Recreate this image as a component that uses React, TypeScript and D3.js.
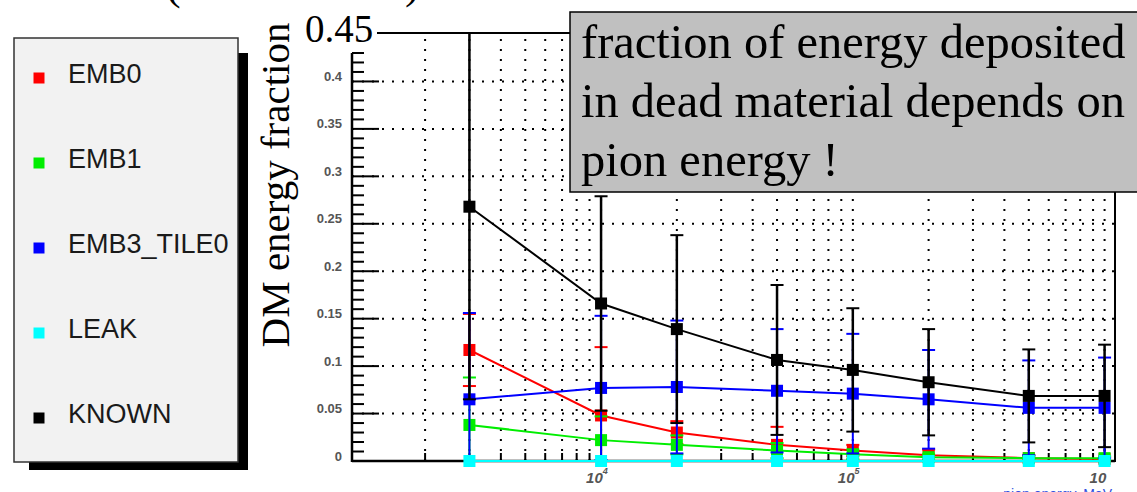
import React from 'react';
import * as d3 from 'd3';

// ---- data ----
const energies = [3000, 10000, 20000, 50000, 100000, 200000, 500000, 1000000];

const emb0 = [0.117, 0.048, 0.030, 0.017, 0.011, 0.006, 0.003, 0.002];
const emb0Err = [0.038, 0.072, 0.012, 0.019, 0.006, 0.006, 0.003, 0.002];

const emb1 = [0.038, 0.022, 0.017, 0.011, 0.007, 0.004, 0.003, 0.003];
const emb1Err = [0.050, 0.025, 0.010, 0.008, 0.005, 0.003, 0.002, 0.002];

const emb3 = [0.065, 0.077, 0.078, 0.074, 0.071, 0.065, 0.056, 0.056];
const emb3Err = [0.091, 0.076, 0.070, 0.065, 0.063, 0.052, 0.050, 0.053];

const leak = [0, 0, 0, 0, 0, 0, 0, 0];
const leakErr = [0, 0, 0, 0, 0, 0, 0, 0];

const known = [0.268, 0.166, 0.139, 0.1065, 0.096, 0.083, 0.0686, 0.0686];
const knownErr = [0.203, 0.113, 0.099, 0.079, 0.065, 0.056, 0.049, 0.054];

const seriesNames = ['EMB0', 'EMB1', 'EMB3_TILE0', 'LEAK', 'KNOWN'];
const seriesColors = ['#ff0000', '#00ee00', '#0000ff', '#00ffff', '#000000'];
const seriesValues = [emb0, emb1, emb3, leak, known];
const seriesErrors = [emb0Err, emb1Err, emb3Err, leakErr, knownErr];

const yTickValues = [0, 0.05, 0.1, 0.15, 0.2, 0.25, 0.3, 0.35, 0.4];
const yTickLabels = ['0', '0.05', '0.1', '0.15', '0.2', '0.25', '0.3', '0.35', '0.4'];
const xLabelValues = [10000, 100000, 1000000];
const xLabelBases = ['10', '10', '10'];
const xLabelExps = ['4', '5', ''];

const yTitle = 'DM energy fraction';
const topValueLabel = '0.45';
const noteLines = ['fraction of energy deposited', 'in dead material depends on', 'pion energy !'];
const xTitle = 'pion energy, MeV';

const W = 1137;
const H = 492;

export default function App() {
  const x = d3.scaleLog().domain([1025, 1.1e6]).range([352, 1115]);
  const y = d3.scaleLinear().domain([0, 0.45]).range([461, 34]);
  const [x0, x1] = x.range();
  const yBottom = y(0);

  // minor/major tick positions on log axis
  const xTicks: number[] = [];
  for (let e = 3; e <= 6; e++) {
    for (let m = 1; m <= 9; m++) {
      const v = m * Math.pow(10, e);
      if (v >= 1025 && v <= 1.1e6) xTicks.push(v);
    }
  }
  const isMajor = (v: number) => Math.abs(Math.log10(v) - Math.round(Math.log10(v))) < 1e-9;

  const yMinor: number[] = d3.range(0, 44).map((i) => i / 100);

  const line = d3
    .line<number>()
    .x((_, i) => x(energies[i]))
    .y((d) => y(d));

  const clampV = (v: number) => Math.max(0, Math.min(0.45, v));
  const msz = 12;
  const cap = 6.5;

  const legendBaseline = (i: number) => 83 + i * 85;

  return (
    <div style={{ position: 'absolute', left: 0, top: 0, width: W, height: H, overflow: 'hidden' }}>
      <svg width={W} height={H} style={{ display: 'block', background: '#ffffff' }}>
        {/* title fragments at the very top */}
        <text x={166} y={-1} fontFamily="Liberation Serif" fontSize={44} fill="#000">(</text>
        <text x={405} y={-2} fontFamily="Liberation Serif" fontSize={44} fill="#000">)</text>

        {/* legend */}
        <rect x={29} y={53} width={219} height={417} fill="#000" />
        <rect x={14} y={38} width={224} height={424} fill="#f2f2f2" stroke="#333" strokeWidth={1.5} />
        {seriesNames.map((n, i) => (
          <g key={n}>
            <rect x={39 - 5.5} y={legendBaseline(i) - 5 - 5.5} width={11} height={11} fill={seriesColors[i]} />
            <text
              x={68}
              y={legendBaseline(i)}
              fontFamily="Liberation Sans, Arial, sans-serif"
              fontSize={27}
              fill="#1a1a1a"
            >
              {n}
            </text>
          </g>
        ))}

        {/* y axis title */}
        <text
          transform={`translate(289,185) rotate(-90)`}
          textAnchor="middle"
          fontFamily="Liberation Serif"
          fontSize={41}
          fill="#000"
        >
          {yTitle}
        </text>

        {/* grid: vertical dotted */}
        {xTicks.map((v) => (
          <line
            key={'gx' + v}
            x1={x(v)}
            x2={x(v)}
            y1={yBottom}
            y2={y(0.445)}
            stroke="#000"
            strokeWidth={2}
            strokeDasharray="2,8"
          />
        ))}
        {/* grid: horizontal dotted */}
        {yTickValues.slice(1).map((v) => (
          <line
            key={'gy' + v}
            x1={x0}
            x2={x1}
            y1={y(v)}
            y2={y(v)}
            stroke="#000"
            strokeWidth={2}
            strokeDasharray="2,8"
          />
        ))}

        {/* top line with 0.45 label and right frame */}
        <line x1={377} x2={x1} y1={33} y2={33} stroke="#000" strokeWidth={2} />
        <line x1={x1} x2={x1} y1={33} y2={yBottom + 1} stroke="#000" strokeWidth={2} />
        <text x={305} y={42} fontFamily="Liberation Serif" fontSize={39} fill="#000">
          {topValueLabel}
        </text>

        {/* y axis */}
        <line x1={x0} x2={x0} y1={y(0.43)} y2={yBottom + 1} stroke="#000" strokeWidth={2.5} />
        {yMinor.map((v, i) => {
          const major = i % 5 === 0;
          return (
            <line
              key={'yt' + i}
              x1={x0}
              x2={x0 + (major ? 27 : 12)}
              y1={y(v)}
              y2={y(v)}
              stroke="#000"
              strokeWidth={2}
            />
          );
        })}
        {yTickValues.map((v, i) => (
          <text
            key={'yl' + i}
            x={342}
            y={y(v) - 0.5}
            textAnchor="end"
            fontFamily="Liberation Sans, Arial, sans-serif"
            fontWeight="bold"
            fontSize={13}
            fill="#555"
          >
            {yTickLabels[i]}
          </text>
        ))}

        {/* x axis */}
        <line x1={x0} x2={x1} y1={yBottom} y2={yBottom} stroke="#000" strokeWidth={2.5} />
        {xTicks.map((v) => (
          <line
            key={'xt' + v}
            x1={x(v)}
            x2={x(v)}
            y1={yBottom}
            y2={yBottom - (isMajor(v) ? 16 : 8)}
            stroke="#000"
            strokeWidth={2}
          />
        ))}
        {xLabelValues.map((v, i) => (
          <text
            key={'xl' + v}
            x={x(v) - 15}
            y={483}
            fontFamily="Liberation Sans, Arial, sans-serif"
            fontStyle="italic"
            fontWeight="bold"
            fontSize={15}
            fill="#555"
          >
            {xLabelBases[i]}
            {xLabelExps[i] ? (
              <tspan dy={-9} fontSize={9}>
                {xLabelExps[i]}
              </tspan>
            ) : null}
          </text>
        ))}

        {/* series */}
        {seriesValues.map((vals, si) => {
          const col = seriesColors[si];
          const errs = seriesErrors[si];
          return (
            <g key={'s' + si}>
              <path d={line(vals) || ''} fill="none" stroke={col} strokeWidth={2} />
              {vals.map((v, i) => {
                const e = errs[i];
                if (e <= 0) return null;
                const hi = v + e;
                const lo = v - e;
                const cx = x(energies[i]);
                const yh = y(clampV(hi));
                const yl = y(clampV(lo));
                return (
                  <g key={'e' + i}>
                    <line x1={cx} x2={cx} y1={yh} y2={yl} stroke={col} strokeWidth={si === 4 ? 2.5 : 2} />
                    {hi <= 0.45 ? (
                      <line x1={cx - cap} x2={cx + cap} y1={yh} y2={yh} stroke={col} strokeWidth={2} />
                    ) : null}
                    {lo >= 0 ? (
                      <line x1={cx - cap} x2={cx + cap} y1={yl} y2={yl} stroke={col} strokeWidth={2} />
                    ) : null}
                  </g>
                );
              })}
              {vals.map((v, i) => (
                <rect
                  key={'m' + i}
                  x={x(energies[i]) - msz / 2}
                  y={y(v) - msz / 2}
                  width={msz}
                  height={msz}
                  fill={col}
                />
              ))}
            </g>
          );
        })}

        {/* annotation box */}
        <rect x={570} y={12} width={600} height={180} fill="#c0c0c0" stroke="#000" strokeWidth={1.5} />
        {noteLines.map((t, i) => (
          <text key={'n' + i} x={581} y={58 + i * 59} fontFamily="Liberation Serif" fontSize={48.5} fill="#000">
            {t}
          </text>
        ))}

        {/* x axis title (cut at the bottom edge, as in the reference) */}
        <text
          x={1112}
          y={499}
          textAnchor="end"
          fontFamily="Liberation Sans, Arial, sans-serif"
          fontSize={14}
          fill="#3050e0"
        >
          {xTitle}
        </text>
      </svg>
    </div>
  );
}
